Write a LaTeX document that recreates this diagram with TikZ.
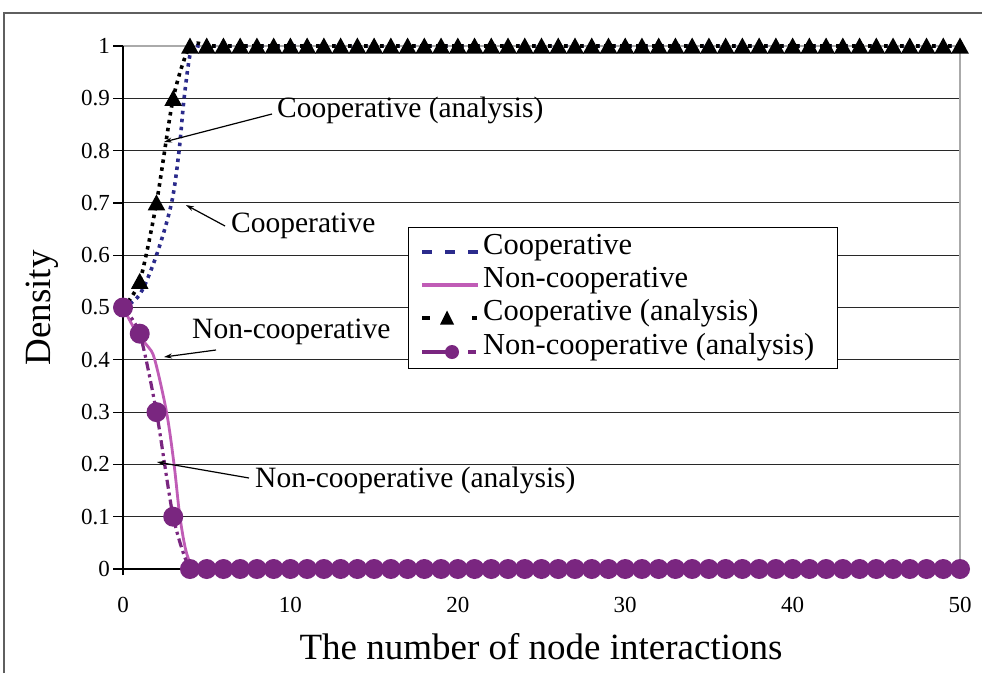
\documentclass[tikz,border=0pt]{standalone}
\usepackage{fontspec}
\setmainfont{Liberation Serif}
\usetikzlibrary{arrows.meta}
\definecolor{coopblue}{RGB}{43,43,140}
\definecolor{ncpink}{RGB}{192,92,182}
\definecolor{ncpurple}{RGB}{122,38,128}
\definecolor{framegray}{RGB}{95,95,95}
\definecolor{gridc}{RGB}{40,40,40}
\definecolor{lightgrid}{RGB}{170,170,170}
\tikzset{
  ticklab/.style={font=\fontsize{23}{26}\selectfont, inner sep=0pt},
  annot/.style={font=\fontsize{29.5}{34}\selectfont, inner sep=0pt, text height=0.7em, text depth=0.22em},
  legtext/.style={font=\fontsize{30.5}{34}\selectfont, inner sep=0pt, anchor=west, text height=0.7em, text depth=0.22em},
  axtitle/.style={font=\fontsize{37}{42}\selectfont, inner sep=0pt},
  callout/.style={draw=black, line width=1.2pt, -{Stealth[length=8pt,width=5pt]}},
  coopline/.style={coopblue, line width=3.6pt, dash pattern=on 3.5pt off 4.5pt},
  ncline/.style={ncpink, line width=2.8pt},
  caline/.style={black, line width=3.6pt, dash pattern=on 3.5pt off 4.5pt},
  ncaline/.style={ncpurple, line width=3.2pt, dash pattern=on 9pt off 4pt on 3pt off 4pt},
}
\begin{document}
\begin{tikzpicture}[x=1pt,y=-1pt]
\useasboundingbox (0,0) rectangle (982,673);
\fill[white] (0,0) rectangle (982,673);
\draw[framegray, line width=2pt] (4,673) -- (4,13) -- (982,13);

\begin{scope}[shift={(123,569)}, x=16.74pt, y=523pt]
  % grid
  \foreach \v in {0.1,0.2,0.3,0.4,0.5,0.6,0.7,0.8,0.9}
    \draw[gridc, line width=1.1pt] (0,\v) -- (50,\v);
  \draw[lightgrid, line width=1.1pt] (0,1) -- (50,1) -- (50,0);
  % axes
  \draw[black, line width=1.3pt] (0,0) ++(0,-6pt) -- (0,1);
  \draw[black, line width=1.3pt] (0,0) -- (50,0);
  \foreach \v in {0,0.1,0.2,0.3,0.4,0.5,0.6,0.7,0.8,0.9,1}
    \draw[black, line width=1.2pt] (0,\v) -- ++(-10pt,0);
  \foreach \v in {10,20,30,40,50}
    \draw[black, line width=1.1pt] (\v,0) -- ++(0,-6pt);
  % tick labels
  \foreach \v/\t in {0/0,0.1/0.1,0.2/0.2,0.3/0.3,0.4/0.4,0.5/0.5,0.6/0.6,0.7/0.7,0.8/0.8,0.9/0.9,1/1}
    \node[ticklab, anchor=east] (yl\t) at ([xshift=-13pt]0,\v) {\t};
  \foreach \v in {0,10,20,30,40,50}
    \node[ticklab] (xl\v) at ([yshift=-36pt]\v,0) {\v};

  % Cooperative (simulation)
  \draw[coopline] plot[smooth, tension=0.55] coordinates {(0,0.5) (1,0.525) (2,0.6) (2.9,0.7) (3.35,0.8) (3.65,0.9) (4.05,0.99) (4.5,1)} -- (50,1);
  % Non-cooperative (simulation)
  \draw[ncline] plot[smooth, tension=0.55] coordinates {(0,0.5) (0.9,0.447) (1.5,0.425) (1.9,0.4) (2.6,0.3) (3.05,0.2) (3.4,0.1) (3.8,0.03) (4.3,0) (5,0)} -- (50,0);
  % Cooperative (analysis)
  \draw[caline] plot[smooth, tension=0.45] coordinates {(0,0.5) (1,0.55) (2,0.7) (3,0.9) (4,1) (5,1)} -- (50,1);
  \foreach \x/\y in {1/0.55,2/0.7,3/0.9}
    \fill[black] (\x,\y) ++(-8.8pt,-7.5pt) -- ++(17.6pt,0pt) -- ++(-8.8pt,16pt) -- cycle;
  \foreach \x in {4,...,50}
    \fill[black] (\x,1) ++(-8.8pt,-7.5pt) -- ++(17.6pt,0pt) -- ++(-8.8pt,16pt) -- cycle;
  % Non-cooperative (analysis)
  \draw[ncaline] plot[smooth, tension=0.45] coordinates {(0,0.5) (1,0.45) (2,0.3) (3,0.1) (4,0) (5,0)} -- (50,0);
  \foreach \x/\y in {0/0.5,1/0.45,2/0.3,3/0.1}
    \fill[ncpurple] (\x,\y) circle[radius=10pt];
  \foreach \x in {4,...,50}
    \fill[ncpurple] (\x,0) circle[radius=10pt];
\end{scope}

% axis titles
\node[axtitle] (xtitle) at (541,647) {The number of node interactions};
\node[axtitle, rotate=90] (ytitle) at (42,308) {Density};

% callouts
\node[annot, anchor=west] (ca) at (277,115) {Cooperative (analysis)};
\node[annot, anchor=west] (co) at (231,230) {Cooperative};
\node[annot, anchor=west] (nc) at (192,336) {Non-cooperative};
\node[annot, anchor=west] (nca) at (255,485) {Non-cooperative (analysis)};
\coordinate (s1) at (272,114);
\coordinate (t1) at (164,142);
\coordinate (s2) at (225,226);
\coordinate (t2) at (186,205);
\coordinate (s3) at (216,350);
\coordinate (t3) at (164,357);
\coordinate (s4) at (249,478);
\coordinate (t4) at (157,462);
\draw[callout] (s1) -- (t1);
\draw[callout] (s2) -- (t2);
\draw[callout] (s3) -- (t3);
\draw[callout] (s4) -- (t4);

% legend
\node[draw=black, fill=white, line width=1.3pt, minimum width=429pt, minimum height=141pt, anchor=north west, inner sep=0pt] (legend) at (408,227) {};
\draw[coopblue, line width=3.2pt, dash pattern=on 10pt off 13pt] (422,252) -- (478,252);
\draw[ncpink, line width=3.2pt] (422,285) -- (478,285);
\draw[black, line width=3.5pt] (422,318) -- (430,318);
\draw[black, line width=3.5pt] (472,318) -- (477,318);
\fill[black] (447,318) ++(-7pt,-6.5pt) -- ++(14pt,0pt) -- ++(-7pt,14pt) -- cycle;
\draw[ncpurple, line width=3.2pt] (422,352) -- (450,352);
\draw[ncpurple, line width=3.5pt] (468,352) -- (476,352);
\fill[ncpurple] (452,352) circle[radius=7pt];
\node[legtext] (l1) at (483,252) {Cooperative};
\node[legtext] (l2) at (483,285) {Non-cooperative};
\node[legtext] (l3) at (483,318) {Cooperative (analysis)};
\node[legtext] (l4) at (483,352) {Non-cooperative (analysis)};
\end{tikzpicture}
\end{document}
